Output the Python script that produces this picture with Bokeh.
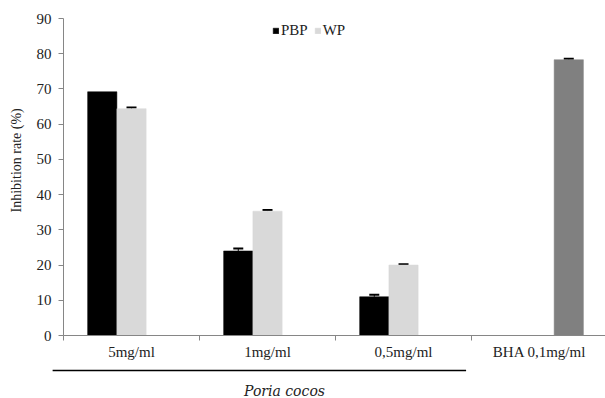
import math
from bokeh.plotting import figure
from bokeh.layouts import column, row
from bokeh.core.properties import value
from bokeh.models import (ColumnDataSource, FixedTicker, Range1d, Whisker, TeeHead,
                          Legend, LegendItem)
from bokeh.embed import file_html
from bokeh.resources import INLINE

categories = ["5mg/ml", "1mg/ml", "0,5mg/ml", "BHA 0,1mg/ml"]
pbp_values = [69.2, 24.0, 11.0]
pbp_errors = [0.0, 0.7, 0.6]
wp_values = [64.4, 35.3, 20.0]
wp_errors = [0.3, 0.3, 0.2]
bha_values = [78.3]
bha_errors = [0.3]
y_ticks = [0, 10, 20, 30, 40, 50, 60, 70, 80, 90]
group_label = "Poria cocos"
group_categories = 3
y_label = "Inhibition rate (%)"

FONT = "Liberation Serif"
AXIS_GRAY = "#868686"
SLOT = 0.215
W, H = 605, 398
LEFT = 63           # frame left edge (px)
TITLE_W = 28        # width of the strip holding the y title
MAIN_H = 362        # height of the main chart
FOOT_H = H - MAIN_H # strip below holding the group bracket
X_END = 3.985

p = figure(width=W - TITLE_W, height=MAIN_H, output_backend="svg", toolbar_location=None,
           x_range=Range1d(0, X_END), y_range=Range1d(0, 90),
           min_border_left=LEFT - TITLE_W, min_border_top=18, min_border_right=0,
           min_border_bottom=26)
p.outline_line_color = None
p.xgrid.visible = False
p.ygrid.visible = False

centers = [i + 0.5 for i in range(len(categories))]


def uppers(vals, errs):
    return [v + e if e > 0 else float("nan") for v, e in zip(vals, errs)]


pbp_src = ColumnDataSource(dict(x=[centers[i] - SLOT for i in range(len(pbp_values))],
                                top=pbp_values, upper=uppers(pbp_values, pbp_errors)))
wp_src = ColumnDataSource(dict(x=[centers[i] for i in range(len(wp_values))],
                               top=wp_values, upper=uppers(wp_values, wp_errors)))
bha_src = ColumnDataSource(dict(x=[centers[3] + SLOT for _ in bha_values],
                                top=bha_values, upper=uppers(bha_values, bha_errors)))

r_pbp = p.vbar(x="x", top="top", bottom=0, width=SLOT, source=pbp_src,
               fill_color="black", line_color="black", line_width=0.5)
r_wp = p.vbar(x="x", top="top", bottom=0, width=SLOT, source=wp_src,
              fill_color="#d9d9d9", line_color="#d9d9d9", line_width=0.5)
r_bha = p.vbar(x="x", top="top", bottom=0, width=SLOT, source=bha_src,
               fill_color="#808080", line_color="#808080", line_width=0.5)

for src in (pbp_src, wp_src, bha_src):
    w = Whisker(base="x", upper="upper", lower="top", source=src, dimension="height",
                line_color="black", line_width=1,
                upper_head=TeeHead(size=10, line_color="black", line_width=2),
                lower_head=None)
    p.add_layout(w)

# x axis: labels at category centres, separator ticks at boundaries
xa = p.xaxis[0]
xa.ticker = FixedTicker(ticks=centers, minor_ticks=list(range(len(categories))))
xa.major_label_overrides = {c: lab for c, lab in zip(centers, categories)}
xa.major_tick_line_color = None
xa.major_tick_out = 0
xa.major_tick_in = 0
xa.minor_tick_out = 5
xa.minor_tick_in = 0
xa.minor_tick_line_color = AXIS_GRAY
xa.axis_line_color = AXIS_GRAY
xa.major_label_text_font = FONT
xa.major_label_text_font_size = "15px"
xa.major_label_text_color = "#222222"
xa.major_label_standoff = 3

ya = p.yaxis[0]
ya.ticker = FixedTicker(ticks=y_ticks)
ya.axis_line_color = AXIS_GRAY
ya.major_tick_line_color = AXIS_GRAY
ya.major_tick_out = 5
ya.major_tick_in = 0
ya.minor_tick_line_color = None
ya.major_label_text_font = FONT
ya.major_label_text_font_size = "15px"
ya.major_label_text_color = "#222222"
ya.major_label_standoff = 7

legend = Legend(items=[LegendItem(label="PBP", renderers=[r_pbp]),
                       LegendItem(label="WP", renderers=[r_wp])],
                orientation="horizontal", location=(209, 296),
                glyph_width=7, glyph_height=7, label_standoff=2, spacing=6,
                padding=0, margin=0, border_line_color=None, background_fill_alpha=0,
                label_text_font=FONT, label_text_font_size="15px",
                label_text_color="#222222")
p.add_layout(legend)

# strip on the left with the rotated y title (pixel coordinates)
t = figure(width=TITLE_W, height=MAIN_H, output_backend="svg", toolbar_location=None,
           x_range=Range1d(0, TITLE_W), y_range=Range1d(0, MAIN_H),
           min_border=0, x_axis_type=None, y_axis_type=None)
t.outline_line_color = None
t.grid.visible = False
t.text(x=[16], y=[MAIN_H - 162], text=[y_label], angle=math.pi / 2,
       text_align="center", text_baseline="middle",
       text_font=value(FONT), text_font_size="14px", text_color="#222222")

# strip below with the group bracket and its italic label (x in category units)
px_per_cat = (W - LEFT) / X_END
f = figure(width=W, height=FOOT_H, output_backend="svg", toolbar_location=None,
           x_range=Range1d(-LEFT / px_per_cat, X_END), y_range=Range1d(0, FOOT_H),
           min_border=0, x_axis_type=None, y_axis_type=None)
f.outline_line_color = None
f.grid.visible = False
f.segment(x0=[0 - 0.08], y0=[FOOT_H - 8], x1=[group_categories - 0.04], y1=[FOOT_H - 8],
          line_color="black", line_width=1.3)
f.text(x=[group_categories / 2 + 0.125], y=[8], text=[group_label],
       text_align="center", text_baseline="middle",
       text_font=value("DejaVu Serif"), text_font_style="italic",
       text_font_size="14px", text_color="#222222")

layout = column(row(t, p, spacing=0), f, spacing=0)

open("out.html", "w").write(file_html(layout, INLINE))
